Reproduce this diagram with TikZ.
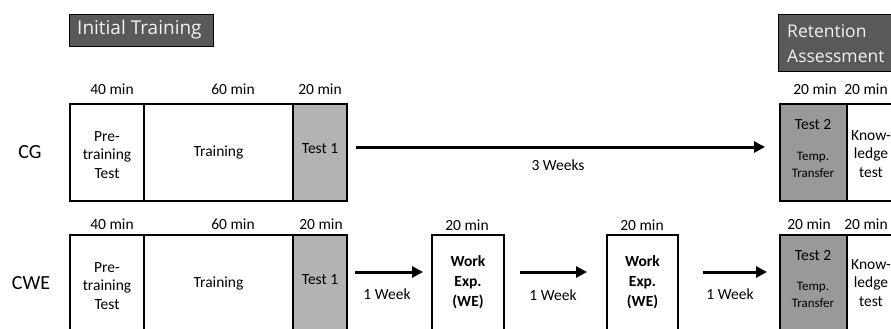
\documentclass[tikz,border=0pt]{standalone}
\usepackage{fontspec}
\setmainfont{Carlito}
\newfontfamily\hdrfont{Open Sans}
\usetikzlibrary{arrows.meta}
\definecolor{hdrgray}{HTML}{595959}
\definecolor{hdrtext}{HTML}{F2F2F2}
\definecolor{testone}{HTML}{B3B3B3}
\definecolor{testtwo}{HTML}{999999}
\begin{document}
\begin{tikzpicture}[x=1pt,y=-1pt,
  box/.style={draw=black, line width=2.4pt, anchor=north west, inner sep=0pt, outer sep=0pt, minimum height=97pt},
  txt/.style={inner sep=0pt, align=center, font=\fontsize{15.5}{18.5}\selectfont},
  smalltxt/.style={inner sep=0pt, align=center, font=\fontsize{13}{17}\selectfont},
  boldtxt/.style={inner sep=0pt, align=center, font=\fontsize{15.5}{20}\selectfont\bfseries},
  rowlbl/.style={inner sep=0pt, font=\fontsize{20}{22}\selectfont},
  hdrbox/.style={draw=black, line width=0.6pt, fill=hdrgray, anchor=north west, inner sep=0pt},
  hdrtxt/.style={inner sep=0pt, anchor=west, align=left, text=hdrtext},
  arr/.style={line width=3pt, -{Triangle[length=11pt,width=11pt]}}
]
\useasboundingbox (0,0) rectangle (891,329);
\clip (0,0) rectangle (891,329);

% headers
\node[hdrbox, minimum width=144pt, minimum height=32pt] (hdrA) at (69,14) {};
\node[hdrtxt, font=\hdrfont\fontsize{19}{25}\selectfont] (hdrAt) at (77,30) {Initial Training};
\node[hdrbox, minimum width=130pt, minimum height=57pt] (hdrB) at (778,14) {};
\node[hdrtxt, font=\hdrfont\fontsize{17.5}{25}\selectfont] (hdrBt) at (787,44) {Retention\\Assessment};

% row labels
\node[rowlbl] (cg) at (30,152) {CG};
\node[rowlbl] (cwe) at (31,283) {CWE};

% CG row boxes
\node[box, minimum width=74pt] (preA) at (70,104) {};
\node[box, minimum width=149pt] (trA) at (144,104) {};
\node[box, minimum width=54pt, fill=testone] (t1A) at (293,104) {};
\node[box, minimum width=67pt, fill=testtwo] (t2A) at (780,104) {};
\node[box, minimum width=47pt] (kA) at (847,104) {};

% CWE row boxes
\node[box, minimum width=74pt] (preB) at (70,235) {};
\node[box, minimum width=149pt] (trB) at (144,235) {};
\node[box, minimum width=54pt, fill=testone] (t1B) at (293,235) {};
\node[box, minimum width=72pt] (we1) at (432,235) {};
\node[box, minimum width=71pt] (we2) at (607,235) {};
\node[box, minimum width=67pt, fill=testtwo] (t2B) at (780,235) {};
\node[box, minimum width=47pt] (kB) at (847,235) {};

% box texts CG
\node[txt] (preAt) at (107,155) {Pre-\\training\\Test};
\node[txt] (trAt) at (218.5,152) {Training};
\node[txt] (t1At) at (320,149) {Test 1};
\node[txt] (t2At) at (813,125) {Test 2};
\node[smalltxt] (t2As) at (813,164.5) {Temp.\\Transfer};
\node[txt] (kAt) at (871,154) {Know-\\ledge\\test};

% box texts CWE
\node[txt] (preBt) at (107,286) {Pre-\\training\\Test};
\node[txt] (trBt) at (218.5,283) {Training};
\node[txt] (t1Bt) at (320,280) {Test 1};
\node[boldtxt] (we1t) at (468,282) {Work\\Exp.\\(WE)};
\node[boldtxt] (we2t) at (642.5,282) {Work\\Exp.\\(WE)};
\node[txt] (t2Bt) at (813,256) {Test 2};
\node[smalltxt] (t2Bs) at (813,295) {Temp.\\Transfer};
\node[txt] (kBt) at (871,283) {Know-\\ledge\\test};

% durations
\node[txt] (dA1) at (112,89) {40 min};
\node[txt] (dA2) at (233,89) {60 min};
\node[txt] (dA3) at (320,89) {20 min};
\node[txt] (dA4) at (815,89) {20 min};
\node[txt] (dA5) at (866,89) {20 min};
\node[txt] (dB1) at (112,224) {40 min};
\node[txt] (dB2) at (233,224) {60 min};
\node[txt] (dB3) at (321,224) {20 min};
\node[txt] (dB4) at (467,225) {20 min};
\node[txt] (dB5) at (642,225) {20 min};
\node[txt] (dB6) at (809,224) {20 min};
\node[txt] (dB7) at (866,224) {20 min};

% arrows
\draw[arr] ([xshift=9pt,yshift=5.5pt]t1A.east) -- ([xshift=-15pt,yshift=5.5pt]t2A.west);
\draw[arr] ([xshift=8pt,yshift=11.5pt]t1B.east) -- ([xshift=-9pt,yshift=11.5pt]we1.west);
\draw[arr] ([xshift=16pt,yshift=11.5pt]we1.east) -- ([xshift=-20pt,yshift=11.5pt]we2.west);
\draw[arr] ([xshift=25pt,yshift=11.5pt]we2.east) -- ([xshift=-13pt,yshift=11.5pt]t2B.west);

\node[txt] (w3) at (558,165) {3 Weeks};
\node[txt] (w1a) at (387,294) {1 Week};
\node[txt] (w1b) at (553,295) {1 Week};
\node[txt] (w1c) at (730,294) {1 Week};
\end{tikzpicture}
\end{document}
